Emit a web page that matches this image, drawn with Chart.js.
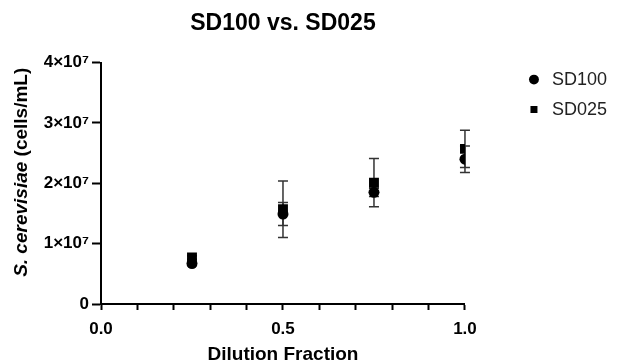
<!DOCTYPE html>
<html>
<head>
<meta charset="utf-8">
<script src="https://cdn.jsdelivr.net/npm/chart.js@4.4.1/dist/chart.umd.min.js"></script>
<style>
  html, body { margin: 0; padding: 0; background: #fff; }
  #wrap { width: 620px; height: 364px; }
</style>
</head>
<body>
<div id="wrap"><canvas id="dilutionchart"></canvas></div>
<script>
var dilution = [0.25, 0.5, 0.75, 1.0];
var sd100Mean = [6.7e6, 1.49e7, 1.85e7, 2.40e7];
var sd100Err = [0.3e6, 1.9e6, 0.7e6, 2.2e6];
var sd025Mean = [7.7e6, 1.57e7, 2.01e7, 2.57e7];
var sd025Err = [0.3e6, 4.7e6, 4.0e6, 3.1e6];
var xTickLabels = ['0.0', '0.5', '1.0'];
var yTickLabels = ['0', '1×10⁷', '2×10⁷', '3×10⁷', '4×10⁷'];

var fontFamily = '"Liberation Sans", Arial, Helvetica, sans-serif';
Chart.defaults.font.family = fontFamily;

// error bars (mean +/- SD) drawn through the chart's scales
var errorBars = {
    id: 'errorBars',
    beforeDatasetsDraw: function(chart) {
        var c = chart.ctx, xs = chart.scales.x, ys = chart.scales.y;
        c.save();
        c.strokeStyle = '#333';
        c.lineWidth = 1.5;
        chart.data.datasets.forEach(function(ds) {
            ds.errors.forEach(function(e, i) {
                var px = xs.getPixelForValue(ds.data[i].x);
                var top = ys.getPixelForValue(ds.data[i].y + e);
                var bot = ys.getPixelForValue(ds.data[i].y - e);
                c.beginPath();
                c.moveTo(px, top); c.lineTo(px, bot);
                c.moveTo(px - 5, top); c.lineTo(px + 5, top);
                c.moveTo(px - 5, bot); c.lineTo(px + 5, bot);
                c.stroke();
            });
        });
        c.restore();
    }
};

// y axis title with italic species name
var yAxisTitle = {
    id: 'yAxisTitle',
    afterDraw: function(chart) {
        var c = chart.ctx, area = chart.chartArea;
        var italicPart = 'S. cerevisiae', plainPart = ' (cells/mL)';
        var italicFont = 'italic bold 19px ' + fontFamily;
        var boldFont = 'bold 19px ' + fontFamily;
        c.save();
        c.fillStyle = '#000';
        c.textBaseline = 'alphabetic';
        c.textAlign = 'left';
        c.translate(27, (area.top + area.bottom) / 2 - 11);
        c.rotate(-Math.PI / 2);
        c.font = italicFont;
        var w1 = c.measureText(italicPart).width;
        c.font = boldFont;
        var w2 = c.measureText(plainPart).width;
        var start = -(w1 + w2) / 2;
        c.font = italicFont;
        c.fillText(italicPart, start, 0);
        c.font = boldFont;
        c.fillText(plainPart, start + w1, 0);
        c.restore();
    }
};

// move the legend next to the right edge, level with the top of the plot
var legendPlace = {
    id: 'legendPlace',
    afterLayout: function(chart) {
        var lg = chart.legend, area = chart.chartArea;
        var dx = area.right + 48 - lg.left;
        var dy = area.top - 4 - lg.top;
        lg.left += dx; lg.right += dx;
        lg.top += dy; lg.bottom += dy;
    }
};

var dilutionctx = document.getElementById('dilutionchart').getContext('2d');
var dilutionchart = new Chart(dilutionctx, {
    type: 'scatter',
    data: {
        datasets: [{
            label: 'SD100',
            data: dilution.map(function(x, i) { return {x: x, y: sd100Mean[i]}; }),
            errors: sd100Err,
            pointStyle: 'circle',
            pointRadius: 5.5,
            pointHoverRadius: 5.5,
            backgroundColor: '#000',
            borderColor: '#000',
            borderWidth: 0
        }, {
            label: 'SD025',
            data: dilution.map(function(x, i) { return {x: x, y: sd025Mean[i]}; }),
            errors: sd025Err,
            pointStyle: 'rect',
            pointRadius: 7,
            pointHoverRadius: 7,
            backgroundColor: '#000',
            borderColor: '#000',
            borderWidth: 0
        }]
    },
    options: {
        responsive: true,
        maintainAspectRatio: false,
        animation: false,
        layout: { padding: { left: 0, right: 51, top: 0, bottom: 0 } },
        plugins: {
            title: {
                display: true,
                text: 'SD100 vs. SD025',
                fullSize: false,
                color: '#000',
                font: { size: 23, weight: 'bold' },
                padding: { top: 10, bottom: 25 }
            },
            legend: {
                position: 'right',
                align: 'start',
                labels: {
                    usePointStyle: true,
                    boxWidth: 18,
                    boxHeight: 7,
                    padding: 12,
                    color: '#222',
                    font: { size: 18 }
                }
            },
            tooltip: { enabled: false }
        },
        scales: {
            x: {
                type: 'linear',
                min: 0,
                max: 1,
                border: { color: '#000', width: 2 },
                grid: { drawOnChartArea: false, tickLength: 6, tickColor: '#000', tickWidth: 2 },
                ticks: {
                    stepSize: 0.1,
                    autoSkip: false,
                    maxRotation: 0,
                    padding: 9,
                    color: '#000',
                    font: { size: 17, weight: 'bold' },
                    callback: function(v) {
                        var s = Number(v).toFixed(1);
                        return xTickLabels.indexOf(s) >= 0 && Math.abs(v * 2 - Math.round(v * 2)) < 1e-6 ? s : '';
                    }
                },
                title: {
                    display: true,
                    text: 'Dilution Fraction',
                    color: '#000',
                    font: { size: 19, weight: 'bold', lineHeight: 1 },
                    padding: { top: 0, bottom: 0 }
                },
                afterFit: function(scale) { scale.height = 60; }
            },
            y: {
                type: 'linear',
                min: 0,
                max: 4e7,
                border: { color: '#000', width: 2 },
                grid: { drawOnChartArea: false, tickLength: 9, tickColor: '#000', tickWidth: 2 },
                ticks: {
                    stepSize: 1e7,
                    padding: 3,
                    color: '#000',
                    font: { size: 17, weight: 'bold' },
                    callback: function(v) { return yTickLabels[Math.round(v / 1e7)]; }
                },
                afterFit: function(scale) { scale.width = 101; }
            }
        }
    },
    plugins: [errorBars, yAxisTitle, legendPlace]
});
</script>
</body>
</html>
